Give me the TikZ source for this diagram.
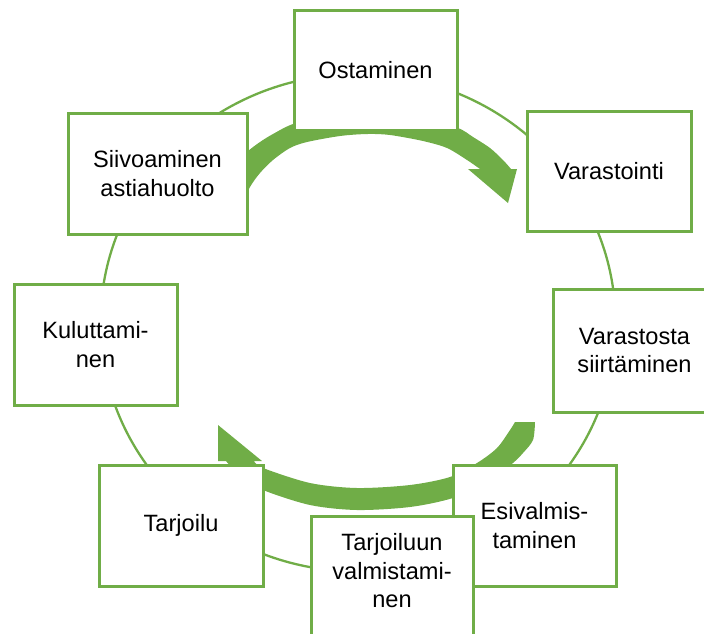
\documentclass[tikz,border=0pt]{standalone}
\usepackage{fontspec}
\setmainfont{Liberation Sans}
\definecolor{ogreen}{HTML}{70AD47}
\begin{document}
\begin{tikzpicture}[x=1pt,y=-1pt,
  box/.style={draw=ogreen, line width=3pt, fill=white, minimum width=163pt,
    minimum height=120pt, inner sep=0pt, align=center,
    font=\fontsize{23.6}{28.3}\selectfont},
  ring/.style={draw=ogreen, line width=2.3pt},
  bigarrow/.style={fill=ogreen}]
\useasboundingbox (0,0) rectangle (704,633);
\clip (0,0) rectangle (704,633);
% ring
\draw[ring] (358,322.7) ellipse [x radius=257.5pt, y radius=248.7pt];
% top arrow
\fill[bigarrow] plot[smooth, tension=0.5] coordinates {(222,185) (232,168) (247,152) (260,142) (273,134) (293,124) (330,114) (375,111) (420,116) (458,128) (473,137) (490,148) (503,160) (511,169)}
  -- (517,169) -- (508,203) -- (468,169)
  -- plot[smooth, tension=0.5] coordinates {(480,169) (467,160) (447,148) (423,141) (390,135) (367,134) (340,136) (307,142) (290,148) (273,160) (260,173) (250,187) (242,205)}
  -- cycle;
% bottom arrow
\fill[bigarrow] plot[smooth, tension=0.5] coordinates {(535,422) (533,440) (523,453) (513,463) (490,482) (453,498) (410,507) (357,510) (310,505) (263,490) (240,476) (226,461)}
  -- (218,461) -- (218,425) -- (262,461)
  -- plot[smooth, tension=0.5] coordinates {(254,461) (263,468) (310,483) (357,488) (410,485) (450,477) (477,463) (497,448) (510,430) (515,422)}
  -- cycle;
% boxes
\node[box] (ost) at (375.5,70) {Ostaminen};
\node[box, minimum width=164pt] (var) at (609,171) {Varastointi};
\node[box, minimum height=123pt] (sii) at (634.5,350.5) {Varastosta\\siirtäminen};
\node[box, minimum height=121pt] (esi) at (534.5,525.5) {Esivalmis-\\taminen};
\node[box, minimum width=162pt, text depth=11pt] (tvm) at (392,576) {Tarjoiluun\\valmistami-\\nen};
\node[box, minimum width=164pt, minimum height=121pt] (tar) at (181,525.5) {Tarjoilu};
\node[box, minimum height=121pt] (kul) at (95.5,344.5) {Kuluttami-\\nen};
\node[box, minimum width=179pt, minimum height=121pt] (siv) at (157.5,173.5) {Siivoaminen\\astiahuolto};
\end{tikzpicture}
\end{document}
